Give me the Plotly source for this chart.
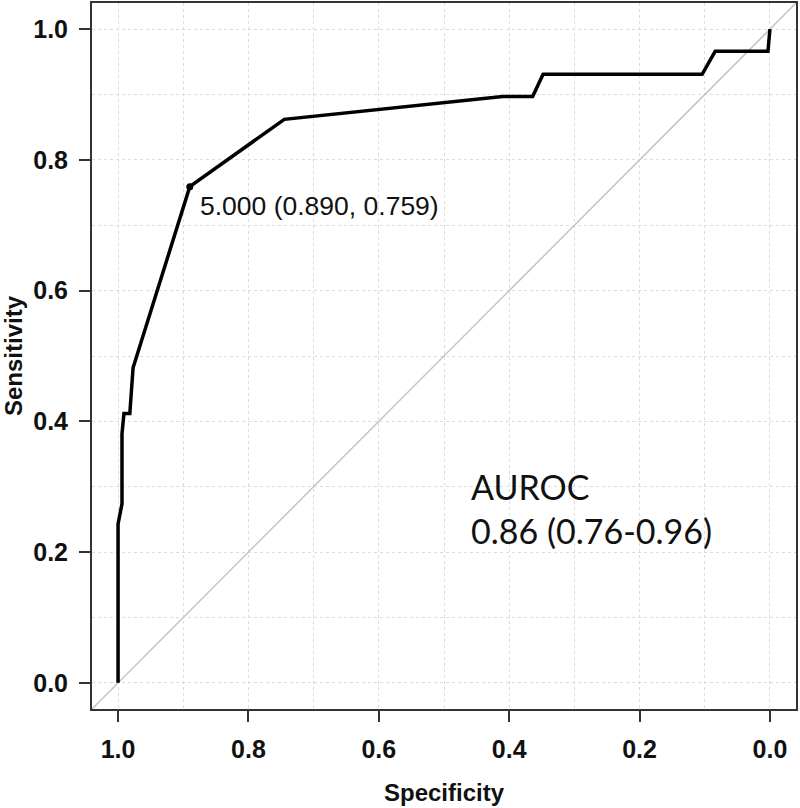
import plotly.graph_objects as go

# ROC curve (specificity, sensitivity)
specificity = [1.0, 1.0, 0.994, 0.994, 0.991, 0.982, 0.977, 0.890, 0.745,
               0.410, 0.364, 0.348, 0.104, 0.084, 0.003, 0.0]
sensitivity = [0.0, 0.243, 0.274, 0.381, 0.412, 0.412, 0.482, 0.759, 0.862,
               0.897, 0.897, 0.931, 0.931, 0.966, 0.966, 1.0]

# chance line, running corner to corner of the plot box
chance_spec = [1.04, -0.04]
chance_sens = [-0.04, 1.04]

cutoff_spec = [0.890]
cutoff_sens = [0.759]
cutoff_label = "5.000 (0.890, 0.759)"
auroc_label = "AUROC<br>0.86 (0.76-0.96)"

tick_vals = [0.0, 0.2, 0.4, 0.6, 0.8, 1.0]
tick_text = ["0.0", "0.2", "0.4", "0.6", "0.8", "1.0"]

fig = go.Figure()

fig.add_trace(go.Scatter(
    x=chance_spec, y=chance_sens, mode="lines",
    line=dict(color="#c4c4c4", width=1.5),
    hoverinfo="skip",
))
fig.add_trace(go.Scatter(
    x=specificity, y=sensitivity, mode="lines",
    line=dict(color="black", width=3.5),
))
fig.add_trace(go.Scatter(
    x=cutoff_spec, y=cutoff_sens, mode="markers",
    marker=dict(color="black", size=7),
))

fig.add_annotation(
    x=cutoff_spec[0], y=cutoff_sens[0], xref="x", yref="y",
    text=cutoff_label, showarrow=False,
    xanchor="left", yanchor="middle", xshift=8, yshift=-19,
    font=dict(family="Liberation Sans, Arial, sans-serif", size=26.5, color="#111"),
)
fig.add_annotation(
    x=0.462, y=0.266, xref="x", yref="y",
    text=auroc_label, showarrow=False, align="left",
    xanchor="left", yanchor="middle",
    font=dict(family="Lato, sans-serif", size=34, color="#111"),
)

axis_style = dict(
    range=[1.04, -0.04],
    tickvals=tick_vals, ticktext=tick_text,
    ticks="outside", ticklen=11, tickwidth=2, tickcolor="#333",
    ticklabelstandoff=6,
    tickfont=dict(family="Liberation Sans, Arial, sans-serif", size=25, color="#111",
                  weight="bold"),
    showline=True, mirror=True, linecolor="#333", linewidth=2,
    showgrid=True, gridcolor="#dcdcdc", griddash="dot", gridwidth=1,
    minor=dict(dtick=0.1, showgrid=True, gridcolor="#dcdcdc", griddash="dot",
               gridwidth=1, ticks=""),
    zeroline=False, automargin=False,
)

fig.update_xaxes(
    **axis_style,
    title=dict(text="Specificity", standoff=22,
               font=dict(family="Liberation Sans, Arial, sans-serif", size=24,
                         color="#111", weight="bold")),
)
fig.update_yaxes(
    **axis_style,
    title=dict(text="Sensitivity", standoff=12,
               font=dict(family="Liberation Sans, Arial, sans-serif", size=24,
                         color="#111", weight="bold")),
)
fig.update_yaxes(range=[-0.04, 1.04])

fig.update_layout(
    width=800, height=808,
    margin=dict(l=92, r=4, t=3, b=99),
    plot_bgcolor="white", paper_bgcolor="white",
    showlegend=False,
)

# drop the default 8px page margin so the figure fills the window exactly
fig.write_html(
    "out.html",
    config={"displayModeBar": False},
    post_script="document.body.style.margin='0';document.body.style.overflow='hidden';",
)
